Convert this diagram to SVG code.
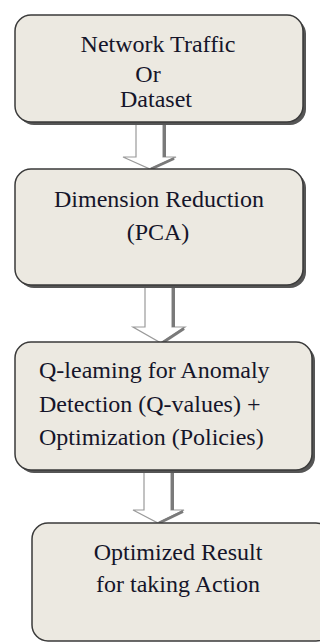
<svg xmlns="http://www.w3.org/2000/svg" width="320" height="642" viewBox="0 0 320 642">
  <style>
    .shadow { fill: #555555; }
    .box { fill: #ECE9E1; stroke: #3a3a3a; stroke-width: 1.5; }
    .arrow { fill: #ffffff; stroke: #9a9a9a; stroke-width: 1.2; }
    .arrow-shade { fill: none; stroke: #7a7a7a; stroke-width: 3; }
    text { font-family: 'Liberation Serif', serif; font-size: 24px; fill: #15152a; }
  </style>

  <!-- block arrows between the steps -->
  <g id="connectors">
    <g id="arrow-1">
      <polygon class="arrow" points="136,122 163,122 163,157 176,157 150,169 123,157 136,157"/>
      <line class="arrow-shade" x1="164.5" y1="122" x2="164.5" y2="157"/>
      <line class="arrow-shade" x1="174" y1="158.5" x2="151" y2="169"/>
    </g>
    <g id="arrow-2">
      <polygon class="arrow" points="145,286 172,286 172,327 185,327 161,343 133,327 145,327"/>
      <line class="arrow-shade" x1="173.5" y1="286" x2="173.5" y2="327"/>
      <line class="arrow-shade" x1="184" y1="328.5" x2="162" y2="343"/>
    </g>
    <g id="arrow-3">
      <polygon class="arrow" points="144,471 171,471 171,510 184,510 158,523 133,510 144,510"/>
      <line class="arrow-shade" x1="172.5" y1="471" x2="172.5" y2="510"/>
      <line class="arrow-shade" x1="183" y1="511.5" x2="159" y2="523"/>
    </g>
  </g>

  <g id="node-input">
    <rect class="shadow" x="18" y="18" width="288" height="107" rx="16"/>
    <rect class="box" x="15" y="15" width="288" height="107" rx="16"/>
    <text x="158" y="52" text-anchor="middle">Network Traffic</text>
    <text x="148" y="82" text-anchor="middle">Or</text>
    <text x="156" y="107" text-anchor="middle">Dataset</text>
  </g>

  <g id="node-reduction">
    <rect class="shadow" x="18" y="172" width="288" height="116" rx="16"/>
    <rect class="box" x="15" y="169" width="288" height="116" rx="16"/>
    <text x="159" y="207" text-anchor="middle">Dimension Reduction</text>
    <text x="158" y="240" text-anchor="middle">(PCA)</text>
  </g>

  <g id="node-qlearning">
    <rect class="shadow" x="18" y="345" width="297" height="128" rx="16"/>
    <rect class="box" x="15" y="342" width="297" height="128" rx="16"/>
    <text x="39" y="378">Q-leaming for Anomaly</text>
    <text x="39" y="412">Detection (Q-values) +</text>
    <text x="39" y="445">Optimization (Policies)</text>
  </g>

  <g id="node-result">
    <rect class="box" x="32" y="523" width="300" height="118" rx="16"/>
    <text x="178" y="560" text-anchor="middle">Optimized Result</text>
    <text x="178" y="592" text-anchor="middle">for taking Action</text>
  </g>
</svg>
